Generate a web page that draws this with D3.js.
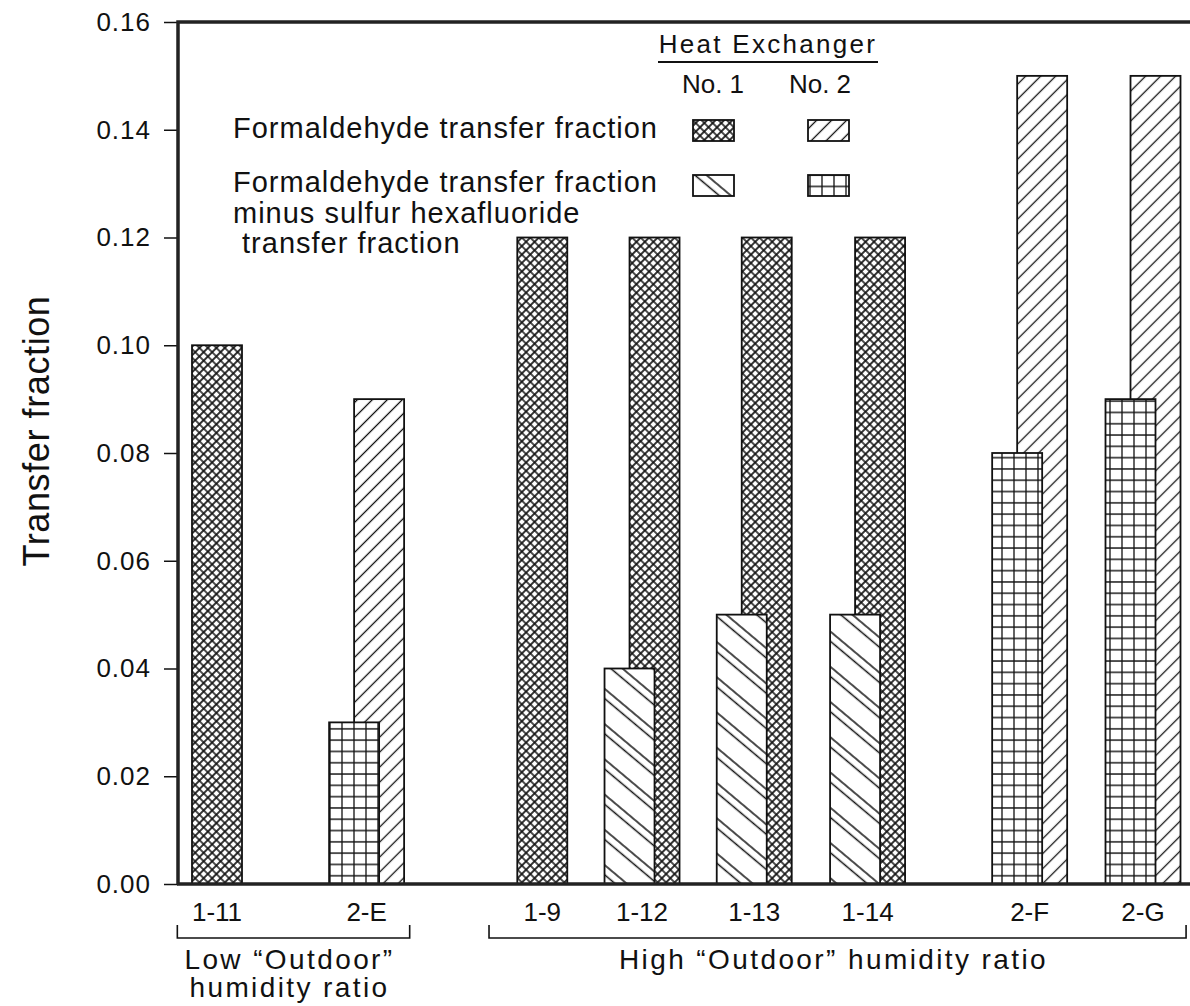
<!DOCTYPE html>
<html>
<head>
<meta charset="utf-8">
<script src="https://cdn.jsdelivr.net/npm/d3@7"></script>
<style>
body { margin: 0; background: #fff; }
text { font-family: "Liberation Sans", Arial, sans-serif; fill: #111; }
</style>
</head>
<body>
<div id="chart"></div>
<script>
// ---- data ----
var categories   = ["1-11", "2-E", "1-9", "1-12", "1-13", "1-14", "2-F", "2-G"];
var exchanger    = [1, 2, 1, 1, 1, 1, 2, 2];
var formaldehyde = [0.10, 0.09, 0.12, 0.12, 0.12, 0.12, 0.15, 0.15];
var minusSF6     = [null, 0.03, null, 0.04, 0.05, 0.05, 0.08, 0.09];
var yTicks       = [0, 0.02, 0.04, 0.06, 0.08, 0.10, 0.12, 0.14, 0.16];
var groupNames   = [["Low \u201cOutdoor\u201d", "humidity ratio"], ["High \u201cOutdoor\u201d humidity ratio"]];
var groupMembers = [["1-11", "2-E"], ["1-9", "1-12", "1-13", "1-14", "2-F", "2-G"]];
var legendRows   = [["Formaldehyde transfer fraction"],
                    ["Formaldehyde transfer fraction", "minus sulfur hexafluoride", " transfer fraction"]];
var legendCols   = ["No. 1", "No. 2"];

// ---- layout ----
var width = 1190, height = 1006;
var plotLeft = 178, plotTop = 22, plotBottom = 884;
var slot = [0, 1.32, 2.87, 3.75, 4.74, 5.74, 7.17, 8.17];   // uneven spacing of the original
var bracketPad = [[0.35, 0.38], [0.47, 0.38]];
var barW = 50, ink = "#111";

var svg = d3.select("#chart").append("svg")
  .attr("width", width).attr("height", height);

var x = d3.scaleLinear().domain([0, 8.17]).range([217, 1143]);
var y = d3.scaleLinear().domain([0, 0.16]).range([plotBottom, plotTop]);
var slotOf = d3.scaleOrdinal().domain(categories).range(slot);

// fill patterns
var defs = svg.append("defs");
function addPattern(id, w, h, angle, d, sw) {
  var p = defs.append("pattern").attr("id", id)
    .attr("patternUnits", "userSpaceOnUse")
    .attr("width", w).attr("height", h);
  if (angle) p.attr("patternTransform", "rotate(" + angle + ")");
  p.append("rect").attr("width", w).attr("height", h).attr("fill", "#fff");
  p.append("path").attr("d", d).attr("fill", "none")
    .attr("stroke", ink).attr("stroke-width", sw);
}
addPattern("xhatch", 6, 6, 45, "M0,3H6M3,0V6", 1.7);
addPattern("fwd", 10, 10.6, -45, "M0,5.3H10", 1.3);
addPattern("back", 10, 27, 40, "M0,4H10M0,11.5H10", 1.3);
addPattern("grid", 12, 11.3, 0, "M6,0V11.3M0,5.65H12", 1.3);

var formFill  = {1: "url(#xhatch)", 2: "url(#fwd)"};
var minusFill = {1: "url(#back)", 2: "url(#grid)"};

// bars: formaldehyde bar behind, "minus SF6" bar in front and shifted left
var backBars = categories.map(function(c, i) {
  var cx = x(slot[i]);
  var x0 = minusSF6[i] == null ? cx - barW / 2 : cx - barW / 4;
  return {x0: x0, v: formaldehyde[i], fill: formFill[exchanger[i]]};
});
var frontBars = categories.map(function(c, i) {
  return {x0: x(slot[i]) - barW * 0.75, v: minusSF6[i], fill: minusFill[exchanger[i]]};
}).filter(function(d) { return d.v != null; });

function drawBars(cls, data) {
  svg.append("g").attr("class", cls)
    .selectAll("rect").data(data).enter().append("rect")
      .attr("x", function(d) { return d.x0; })
      .attr("y", function(d) { return y(d.v); })
      .attr("width", barW)
      .attr("height", function(d) { return y(0) - y(d.v); })
      .attr("fill", function(d) { return d.fill; })
      .attr("stroke", ink).attr("stroke-width", 1.8);
}
drawBars("back", backBars);
drawBars("front", frontBars);

// y axis
var yAxis = d3.axisLeft(y).tickValues(yTicks)
  .tickFormat(d3.format(".2f")).tickSize(14).tickPadding(13);
var ga = svg.append("g").attr("transform", "translate(" + plotLeft + ",0)").call(yAxis);
ga.select(".domain").remove();
ga.selectAll(".tick line").attr("stroke", ink).attr("stroke-width", 1.5);
ga.selectAll(".tick text")
  .style("font-family", "'Liberation Sans', Arial, sans-serif")
  .style("font-size", "26px").style("letter-spacing", "1px").attr("fill", ink);

// frame lines
svg.append("path")
  .attr("d", "M" + plotLeft + "," + plotBottom + "V" + plotTop + "H" + width +
             "M" + (plotLeft - 1) + "," + plotBottom + "H" + width)
  .attr("fill", "none").attr("stroke", "#222").attr("stroke-width", 3.5);

// y title
svg.append("text")
  .attr("transform", "translate(49,431) rotate(-90)")
  .attr("text-anchor", "middle")
  .style("font-size", "36px").style("letter-spacing", "0.6px")
  .attr("fill", "#222")
  .text("Transfer fraction");

// category labels
svg.append("g").selectAll("text").data(categories).enter().append("text")
  .attr("x", function(d, i) { return x(slot[i]); })
  .attr("y", 921)
  .attr("text-anchor", "middle")
  .style("font-size", "26px")
  .text(function(d) { return d; });

// group brackets and labels
groupMembers.forEach(function(m, g) {
  var x0 = x(slotOf(m[0]) - bracketPad[g][0]);
  var x1 = x(slotOf(m[m.length - 1]) + bracketPad[g][1]);
  svg.append("path")
    .attr("d", "M" + x0 + ",925V938H" + x1 + "V925")
    .attr("fill", "none").attr("stroke", ink).attr("stroke-width", 1.6);
  var t = svg.append("text")
    .attr("x", (x0 + x1) / 2).attr("y", 969)
    .attr("text-anchor", "middle")
    .style("font-size", "28px").style("letter-spacing", "2.4px");
  groupNames[g].forEach(function(line, k) {
    t.append("tspan").attr("x", (x0 + x1) / 2 - 4).attr("dy", k ? 28 : 0).text(line);
  });
});

// legend
var leg = svg.append("g").attr("class", "legend");
leg.append("text").attr("x", 768).attr("y", 53).attr("text-anchor", "middle")
  .style("font-size", "26px").style("letter-spacing", "2.3px")
  .text("Heat Exchanger");
leg.append("line").attr("x1", 658).attr("x2", 878).attr("y1", 62).attr("y2", 62)
  .attr("stroke", ink).attr("stroke-width", 2.2);
var colX = [713, 828];
legendCols.forEach(function(c, j) {
  leg.append("text").attr("x", colX[j] - (j ? 8 : 0)).attr("y", 93)
    .attr("text-anchor", "middle").style("font-size", "26px").text(c);
});
var rowY = [130, 185], rowBase = [138, 192];
var rowFills = [formFill, minusFill];
legendRows.forEach(function(lines, r) {
  var t = leg.append("text").attr("x", 233).attr("y", rowBase[r])
    .style("font-size", "29px").style("letter-spacing", "1px");
  lines.forEach(function(line, k) {
    t.append("tspan").attr("x", 233).attr("dy", k ? 30.5 : 0).text(line);
  });
  [1, 2].forEach(function(ex, j) {
    leg.append("rect")
      .attr("x", colX[j] - 20).attr("y", rowY[r] - 10)
      .attr("width", 41).attr("height", 21)
      .attr("fill", rowFills[r][ex])
      .attr("stroke", ink).attr("stroke-width", 1.8);
  });
});
</script>
</body>
</html>
